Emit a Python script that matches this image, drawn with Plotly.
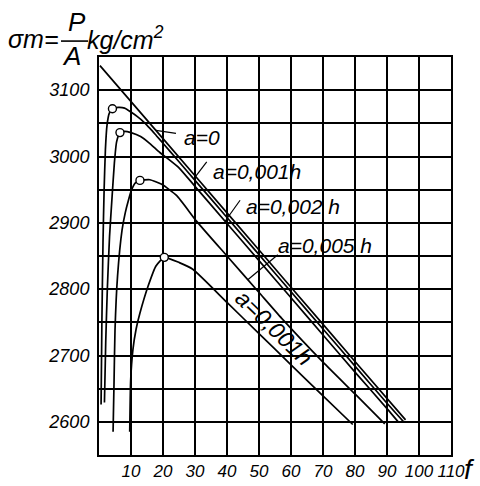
import numpy as np
import plotly.graph_objects as go

# ---- data ----
f_a0 = [0.3, 20, 40, 60, 80, 95.8]
s_a0 = [3137, 3027, 2915, 2803, 2691, 2603]

f_a001 = [0.65, 0.9, 1.25, 1.6, 2.0, 2.5, 3.2, 4.2, 6, 8, 10, 12, 14, 16, 18, 20, 25, 30, 40, 50, 60, 70, 80, 90, 95.2]
s_a001 = [2626, 2750, 2870, 2950, 3010, 3047, 3065, 3072, 3074, 3073, 3067, 3060, 3052, 3042, 3031, 3020, 2992, 2964, 2908, 2852, 2796, 2740, 2684, 2628, 2600]

f_a002 = [1.7, 2.1, 2.6, 3.3, 4.1, 4.8, 5.5, 6.55, 8, 10, 13, 16, 19, 22, 25, 30, 40, 50, 60, 70, 80, 90, 93.5]
s_a002 = [2629, 2720, 2800, 2880, 2940, 2990, 3022, 3036, 3038, 3036, 3030, 3019, 3006, 2995, 2983, 2955, 2899, 2843, 2787, 2731, 2675, 2620, 2600]

f_a005 = [4.4, 4.7, 5.0, 5.8, 7.2, 8.2, 9.2, 10.2, 11.3, 12.8, 15.9, 19.6, 24.3, 30.4, 40, 50, 57.1, 70, 80, 89.3]
s_a005 = [2585, 2660, 2738, 2820, 2889, 2915, 2934, 2950, 2960, 2964, 2965, 2958, 2941, 2903, 2850, 2795, 2756, 2690, 2642, 2597]

f_a01 = [9.6, 9.9, 10.6, 11.6, 12.8, 15.3, 17.8, 20.4, 25.1, 29.3, 40, 50, 60, 70, 79.3]
s_a01 = [2585, 2663, 2709, 2740, 2764, 2804, 2835, 2848, 2840, 2830, 2780, 2733, 2686, 2639, 2596]

peak_f = [4.2, 6.55, 12.8, 20.4]
peak_s = [3072, 3036, 2964, 2848]

x_ticks = [10, 20, 30, 40, 50, 60, 70, 80, 90, 100, 110]
y_labels = [2600, 2700, 2800, 2900, 3000, 3100]

labels = ["a=0", "a=0,001h", "a=0,002 h", "a=0,005 h", "a=0,001h"]

# ---- figure ----
fig = go.Figure()
line_style = dict(color="black", width=1.7, shape="spline", smoothing=0.5)
for fx, sy in [(f_a0, s_a0), (f_a001, s_a001), (f_a002, s_a002), (f_a005, s_a005), (f_a01, s_a01)]:
    fig.add_trace(go.Scatter(x=fx, y=sy, mode="lines", line=line_style, hoverinfo="skip"))

fig.add_trace(go.Scatter(x=peak_f, y=peak_s, mode="markers",
                         marker=dict(size=8, color="white", line=dict(color="black", width=1.4)),
                         hoverinfo="skip"))

ifont = dict(family="Liberation Sans", size=21, color="black", style="italic")

# curve labels
fig.add_annotation(x=25.9, y=3029, text=labels[0], showarrow=False, xanchor="left", font=ifont)
fig.add_annotation(x=35.0, y=2977, text=labels[1], showarrow=False, xanchor="left", font=ifont)
fig.add_annotation(x=45.3, y=2925, text=labels[2], showarrow=False, xanchor="left", font=ifont)
fig.add_annotation(x=55.3, y=2866, text=labels[3], showarrow=False, xanchor="left", font=ifont)
fig.add_annotation(x=54.8, y=2742, text=labels[4], showarrow=False, textangle=44,
                   font=dict(family="Liberation Sans", size=23, color="black", style="italic"))

# pointer strokes from the labels to their curves (pixel-sized lines anchored on the curves)
def ptr(fx, sy, at, dx, dy):
    fig.add_shape(type="line", xref="x", yref="y",
                  xsizemode="pixel", ysizemode="pixel",
                  xanchor=at, yanchor=float(np.interp(at, fx, sy)),
                  x0=0, y0=0, x1=dx, y1=-dy,
                  line=dict(color="black", width=1.2))

ptr(f_a0, s_a0, 17.8, 20, 3)
ptr(f_a001, s_a001, 29.6, 13, -17)
ptr(f_a002, s_a002, 39.4, 15, -21)
ptr(f_a005, s_a005, 46.5, 30, -25)

# axis title (top-left fraction) and f
tfont = dict(family="Liberation Sans", size=25, color="black", style="italic")
fig.add_annotation(xref="paper", yref="paper", x=-0.108, y=1.045, text="σm=", showarrow=False,
                   xanchor="right", yanchor="middle", font=tfont)
fig.add_annotation(xref="paper", yref="paper", x=-0.0625, y=1.087, text="P", showarrow=False,
                   xanchor="center", yanchor="middle", font=dict(tfont, size=26))
fig.add_annotation(xref="paper", yref="paper", x=-0.0795, y=1.002, text="A", showarrow=False,
                   xanchor="center", yanchor="middle", font=dict(tfont, size=26))
fig.add_shape(type="line", xref="paper", yref="paper", x0=-0.108, x1=-0.031, y0=1.040, y1=1.040,
              line=dict(color="black", width=1.6))
fig.add_annotation(xref="paper", yref="paper", x=-0.040, y=1.047, text="kg/cm<sup>2</sup>",
                   showarrow=False, xanchor="left", yanchor="middle", font=tfont)
fig.add_annotation(xref="paper", yref="paper", x=1.030, y=-0.036, text="f", showarrow=False,
                   xanchor="left", yanchor="middle", font=dict(tfont, size=28))

fig.update_layout(
    width=480, height=486,
    margin=dict(l=99, r=29, t=57, b=31, autoexpand=False),
    paper_bgcolor="white", plot_bgcolor="white",
    showlegend=False,
    xaxis=dict(range=[0, 110], tickvals=x_ticks, ticktext=[str(v) for v in x_ticks],
               showgrid=True, gridcolor="black", gridwidth=1.5, zeroline=False,
               showline=True, mirror=True, linecolor="black", linewidth=2,
               ticks="", ticklabelstandoff=0, automargin=False,
               tickfont=dict(family="Liberation Sans", size=17, color="black", style="italic")),
    yaxis=dict(range=[2550, 3150], tickvals=y_labels, ticktext=[str(v) for v in y_labels],
               showgrid=True, gridcolor="black", gridwidth=1.5, zeroline=False,
               minor=dict(tick0=2550, dtick=50, showgrid=True, gridcolor="black", gridwidth=1.5),
               showline=True, mirror=True, linecolor="black", linewidth=2,
               ticks="", ticklabelstandoff=4, automargin=False,
               tickfont=dict(family="Liberation Sans", size=18, color="black", style="italic")),
)

# remove the browser's default 8px page margin so the 480x486 figure fills the window exactly
fig.write_html("out.html", config={"displayModeBar": False},
               post_script="document.body.style.margin='0px';document.body.style.overflow='hidden';")
